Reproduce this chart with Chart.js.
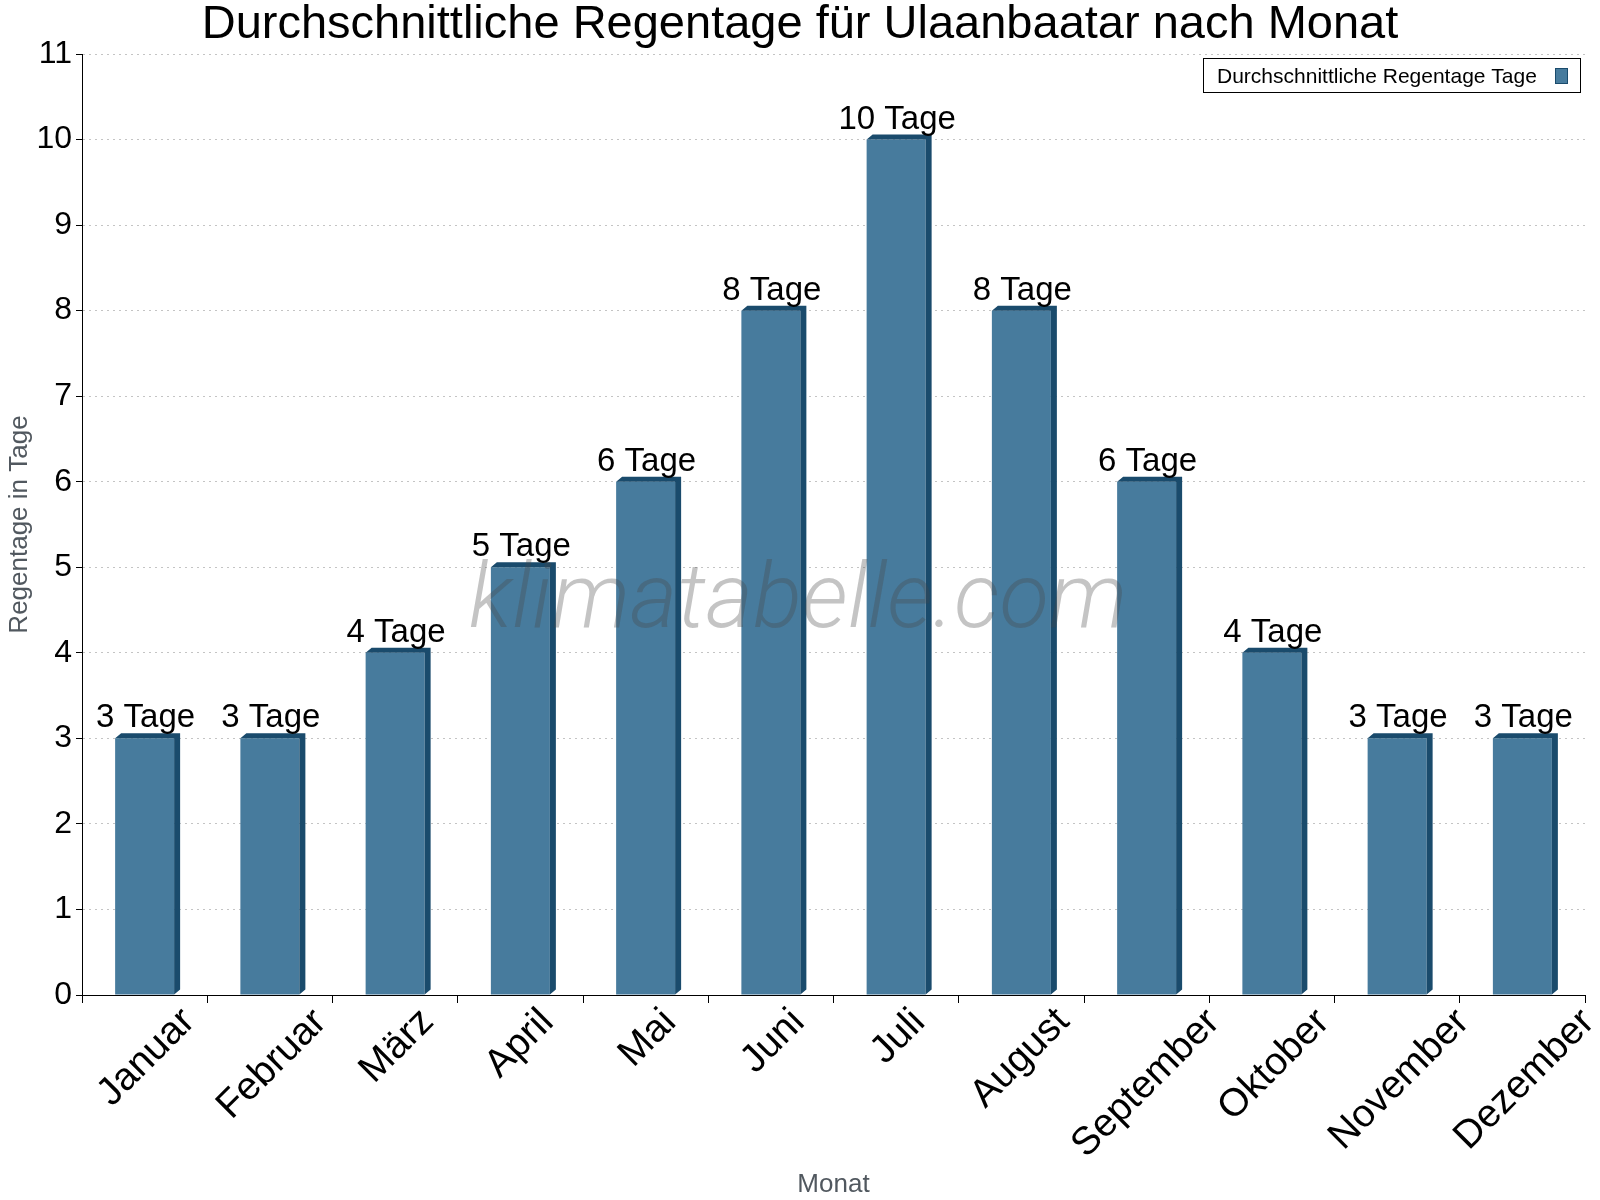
<!DOCTYPE html>
<html>
<head>
<meta charset="utf-8">
<script src="https://cdn.jsdelivr.net/npm/chart.js@4.4.1/dist/chart.umd.min.js"></script>
<style>
  html, body { margin: 0; padding: 0; background: #fff; }
</style>
</head>
<body>
<canvas id="myChart" width="1600" height="1200"></canvas>
<script>
// daten
var monate = ['Januar', 'Februar', 'März', 'April', 'Mai', 'Juni', 'Juli', 'August', 'September', 'Oktober', 'November', 'Dezember'];
var regentage = [3, 3, 4, 5, 6, 8, 10, 8, 6, 4, 3, 3];
var yMin = 0;
var yMax = 11;
var einheit = 'Tage';

var titel = 'Durchschnittliche Regentage für Ulaanbaatar nach Monat';
var legendeText = 'Durchschnittliche Regentage Tage';

var farbe = '#477b9d';
var dunkel = '#1a4b6c';
var schrift = "'Liberation Sans', Arial, sans-serif";

var extras = {
    id: 'extras',
    afterDatasetsDraw: function(chart) {
        var ctx = chart.ctx;
        var meta = chart.getDatasetMeta(0);
        ctx.save();
        // 3d seite + deckel
        meta.data.forEach(function(bar) {
            var l = bar.x - bar.width / 2, r = bar.x + bar.width / 2;
            var t = bar.y, b = bar.base;
            ctx.fillStyle = dunkel;
            ctx.beginPath();
            ctx.moveTo(l, t);
            ctx.lineTo(l + 6, t - 5);
            ctx.lineTo(r + 6, t - 5);
            ctx.lineTo(r + 6, b - 5);
            ctx.lineTo(r, b);
            ctx.lineTo(r, t);
            ctx.closePath();
            ctx.fill();
        });

        // wasserzeichen
        ctx.font = "italic 300 91px Roboto, sans-serif";
        ctx.fillStyle = 'rgba(70,70,70,0.32)';
        ctx.textAlign = 'center';
        ctx.textBaseline = 'alphabetic';
        ctx.fillText('klimatabelle.com', 798, 627);

        // werte ueber den balken
        ctx.font = '33px ' + schrift;
        ctx.fillStyle = '#000';
        meta.data.forEach(function(bar, i) {
            ctx.fillText(regentage[i] + ' ' + einheit, bar.x + 1, bar.y - 11);
        });
        ctx.restore();
    },
    afterDraw: function(chart) {
        var ctx = chart.ctx;
        ctx.save();
        // titel
        ctx.font = '47px ' + schrift;
        ctx.fillStyle = '#000';
        ctx.textAlign = 'center';
        ctx.textBaseline = 'middle';
        ctx.fillText(titel, 800, 25);

        // x beschriftung, 45 grad, mittig unter der kategorie
        var xs = chart.scales.x;
        ctx.font = '39px ' + schrift;
        ctx.textAlign = 'center';
        ctx.textBaseline = 'alphabetic';
        monate.forEach(function(m, i) {
            var cx = xs.getPixelForValue(i);
            var mt = ctx.measureText(m);
            var asc = mt.actualBoundingBoxAscent, desc = mt.actualBoundingBoxDescent;
            var cy = 1004 + (mt.width + asc + desc) / (2 * Math.SQRT2);
            ctx.save();
            ctx.translate(cx, cy);
            ctx.rotate(-Math.PI / 4);
            ctx.fillText(m, 0, (asc - desc) / 2);
            ctx.restore();
        });

        // legende
        ctx.fillStyle = '#fff';
        ctx.fillRect(1203, 58, 377, 34);
        ctx.strokeStyle = '#000';
        ctx.lineWidth = 1;
        ctx.strokeRect(1203.5, 58.5, 377, 34);
        ctx.font = '21px ' + schrift;
        ctx.fillStyle = '#000';
        ctx.textAlign = 'left';
        ctx.fillText(legendeText, 1217, 83);
        ctx.fillStyle = farbe;
        ctx.fillRect(1555, 68, 13, 16);
        ctx.strokeStyle = dunkel;
        ctx.strokeRect(1555.5, 68.5, 12, 15);
        ctx.restore();
    }
};

var ctx = document.getElementById('myChart').getContext('2d');
var chart = new Chart(ctx, {
    type: 'bar',
    data: {
        labels: monate,
        datasets: [{
            label: legendeText,
            data: regentage,
            backgroundColor: farbe,
            borderWidth: 0,
            categoryPercentage: 1,
            barPercentage: 0.471
        }]
    },
    options: {
        responsive: false,
        devicePixelRatio: 1,
        animation: false,
        layout: { padding: { top: 54, right: 15, left: 0, bottom: 0 } },
        plugins: {
            legend: { display: false },
            title: { display: false },
            tooltip: { enabled: false }
        },
        scales: {
            x: {
                offset: true,
                grid: { display: true, offset: true, drawOnChartArea: false, tickLength: 8, tickColor: '#000' },
                border: { color: '#000', width: 1 },
                ticks: { display: false },
                title: { display: true, text: 'Monat', color: '#51585f', font: { family: schrift, size: 26 }, padding: { top: 0, bottom: 0 } },
                afterFit: function(scale) { scale.height = 205; }
            },
            y: {
                min: yMin,
                max: yMax,
                ticks: { stepSize: 1, color: '#000', font: { family: schrift, size: 32 }, padding: 4 },
                grid: { color: '#c4c4c4', tickColor: '#000', tickLength: 6, tickBorderDash: [] },
                border: { color: '#000', width: 1, dash: [2, 4] },
                title: { display: true, text: 'Regentage in Tage', color: '#51585f', font: { family: schrift, size: 26 }, padding: { top: 4, bottom: 0 } },
                afterFit: function(scale) { scale.width = 82; }
            }
        }
    },
    plugins: [extras]
});
</script>
</body>
</html>
